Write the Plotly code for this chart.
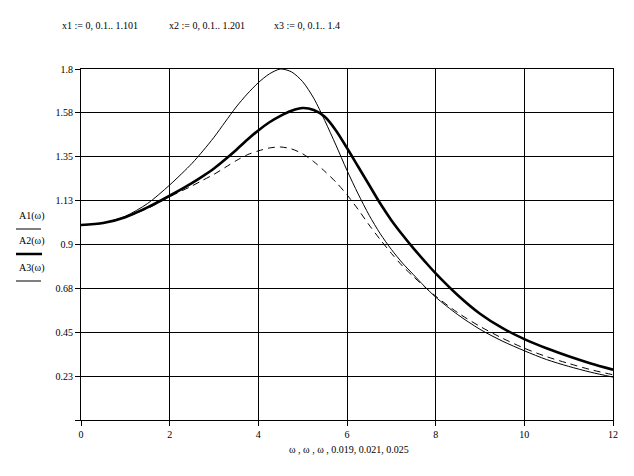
import plotly.graph_objects as go

omega = [0, 0.5, 1, 1.5, 2, 2.5, 2.75, 3, 3.25, 3.5, 3.75, 4, 4.25, 4.5, 4.75, 5, 5.25, 5.5, 5.75,
         6, 6.25, 6.5, 6.75, 7, 7.25, 7.5, 7.75, 8, 8.5, 9, 9.5, 10, 10.5, 11, 11.5, 12]
A1 = [1.0, 1.01, 1.045, 1.11, 1.205, 1.315, 1.38, 1.45, 1.528, 1.605, 1.672, 1.73, 1.775, 1.80, 1.785, 1.735,
      1.65, 1.535, 1.41, 1.28, 1.16, 1.05, 0.955, 0.875, 0.805, 0.745, 0.685, 0.63, 0.54, 0.465, 0.405, 0.355,
      0.31, 0.275, 0.245, 0.22]
A2 = [1.0, 1.01, 1.04, 1.09, 1.15, 1.215, 1.251, 1.29, 1.336, 1.385, 1.437, 1.485, 1.527, 1.56, 1.586, 1.60,
      1.59, 1.555, 1.485, 1.395, 1.30, 1.205, 1.11, 1.025, 0.95, 0.88, 0.815, 0.752, 0.64, 0.545, 0.472, 0.415,
      0.368, 0.327, 0.29, 0.258]
A3 = [1.0, 1.01, 1.04, 1.085, 1.145, 1.20, 1.23, 1.26, 1.295, 1.33, 1.36, 1.38, 1.395, 1.40, 1.39, 1.365,
      1.325, 1.275, 1.22, 1.155, 1.08, 1.00, 0.925, 0.855, 0.79, 0.735, 0.683, 0.635, 0.55, 0.48, 0.42, 0.368,
      0.325, 0.29, 0.258, 0.232]

y_tickvals = [0, 0.225, 0.45, 0.675, 0.9, 1.125, 1.35, 1.575, 1.8]
y_ticktext = ["", "0.23", "0.45", "0.68", "0.9", "1.13", "1.35", "1.58", "1.8"]
x_tickvals = [0, 2, 4, 6, 8, 10, 12]

FONT = "Liberation Serif"

fig = go.Figure()
fig.add_trace(go.Scatter(x=omega, y=A1, mode="lines", line=dict(color="black", width=1, shape="spline", smoothing=0.8)))
fig.add_trace(go.Scatter(x=omega, y=A2, mode="lines", line=dict(color="black", width=2.6, shape="spline", smoothing=0.8)))
fig.add_trace(go.Scatter(x=omega, y=A3, mode="lines", line=dict(color="black", width=1, dash="7px,5px", shape="spline", smoothing=0.8)))

axis_common = dict(showgrid=True, gridcolor="black", gridwidth=1, showline=True, linecolor="black",
                   linewidth=1, mirror=True, ticks="outside", ticklen=5, tickcolor="black",
                   zeroline=False, automargin=False, tickfont=dict(family=FONT, size=10, color="black"))

# page body has an 8px margin: figure origin sits at (8, 8) in the window
fig.update_layout(
    width=626, height=468,
    margin=dict(l=73, r=21, t=61, b=56),
    paper_bgcolor="white", plot_bgcolor="white",
    showlegend=False,
    font=dict(family=FONT, size=10, color="black"),
    xaxis=dict(range=[0, 12], tickvals=x_tickvals, **axis_common),
    yaxis=dict(range=[0, 1.8], tickvals=y_tickvals, ticktext=y_ticktext, **axis_common),
)

# helper: window pixel -> paper coords (plot area spans x 81..613, y 69..420 in the window)
def px_to_paper(px, py):
    return (px - 81) / 532, (420 - py) / 351

# header text
for txt, xp in [("x1 := 0, 0.1.. 1.101", 60), ("x2 := 0, 0.1.. 1.201", 167), ("x3 := 0, 0.1.. 1.4", 272)]:
    ax, ay = px_to_paper(xp, 25)
    fig.add_annotation(text=txt, xref="paper", yref="paper", x=ax, y=ay,
                       xanchor="left", yanchor="middle", showarrow=False,
                       font=dict(family=FONT, size=10, color="black"))

# x-axis title
ax, ay = px_to_paper(349, 450)
fig.add_annotation(text="ω , ω , ω , 0.019, 0.021, 0.025", xref="paper", yref="paper",
                   x=ax, y=ay, xanchor="center", yanchor="middle",
                   showarrow=False, font=dict(family=FONT, size=10, color="black"))

# left legend labels
for label, ty, ly, lw, x1 in [("A1(ω)", 216, 229, 1, 41), ("A2(ω)", 241, 254, 2.5, 42), ("A3(ω)", 268, 281, 1, 41)]:
    ax, ay = px_to_paper(17, ty)
    fig.add_annotation(text=label, xref="paper", yref="paper", x=ax, y=ay, xanchor="left", yanchor="middle",
                       showarrow=False, font=dict(family=FONT, size=10, color="black"))
    sx0, sy = px_to_paper(16, ly)
    sx1, _ = px_to_paper(x1, ly)
    fig.add_shape(type="line", xref="paper", yref="paper", x0=sx0, x1=sx1, y0=sy, y1=sy,
                  line=dict(color="black", width=lw))

fig.write_html("out.html")
